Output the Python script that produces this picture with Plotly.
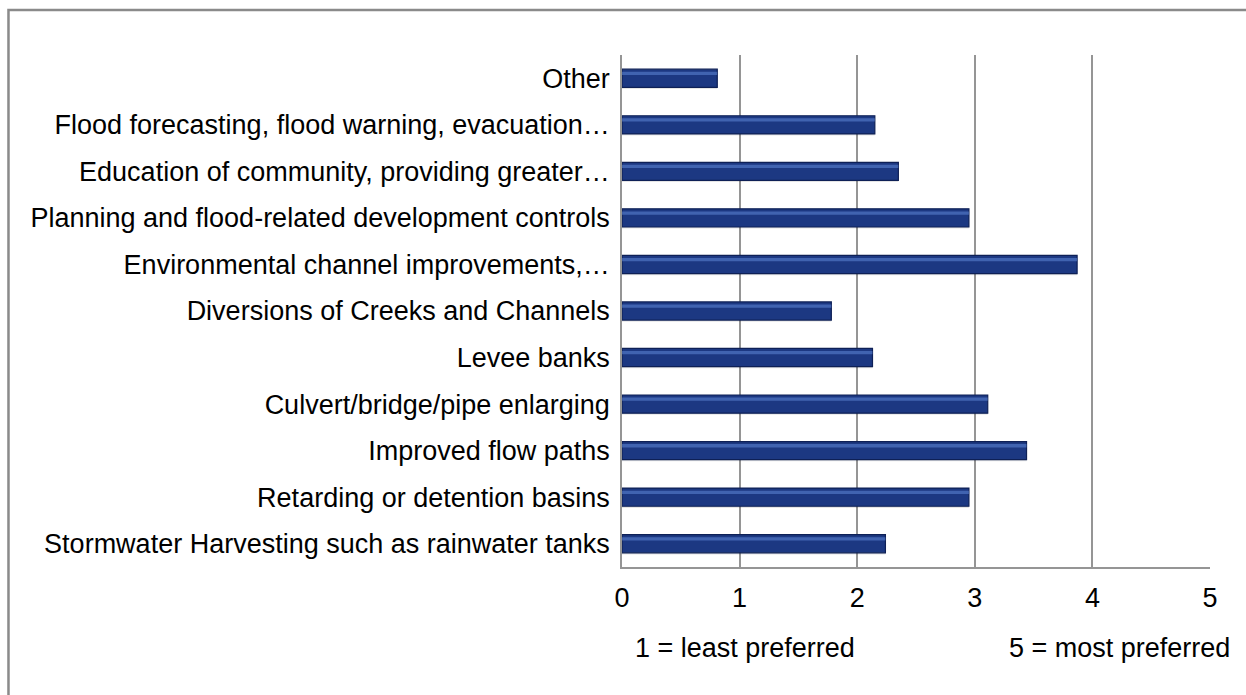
import plotly.graph_objects as go

# Flood-mitigation options, listed top to bottom
options = [
    "Other",
    "Flood forecasting, flood warning, evacuation…",
    "Education of community, providing greater…",
    "Planning and flood-related development controls",
    "Environmental channel improvements,…",
    "Diversions of Creeks and Channels",
    "Levee banks",
    "Culvert/bridge/pipe enlarging",
    "Improved flow paths",
    "Retarding or detention basins",
    "Stormwater Harvesting such as rainwater tanks",
]
mean_rating = [0.81, 2.15, 2.35, 2.95, 3.87, 1.78, 2.13, 3.11, 3.44, 2.95, 2.24]
x_ticks = [0, 1, 2, 3, 4, 5]

FONT = "Liberation Sans, Arial, sans-serif"
FSIZE = 27

fig = go.Figure()

# soft drop shadow under each bar
fig.add_trace(go.Bar(
    y=options, x=mean_rating, orientation="h",
    width=0.40, offset=-0.17,
    marker=dict(color="rgba(0,0,0,0.10)", line=dict(width=0)),
    hoverinfo="skip", showlegend=False,
))
# main navy bar
fig.add_trace(go.Bar(
    y=options, x=mean_rating, orientation="h",
    width=0.39, offset=-0.195,
    marker=dict(color="#1c3882", line=dict(color="#0e2056", width=1.2)),
    showlegend=False,
))
# glossy highlight stripe near the top of each bar
fig.add_trace(go.Bar(
    y=options, x=mean_rating, orientation="h",
    width=0.07, offset=-0.14,
    marker=dict(color="rgba(95,135,215,0.55)", line=dict(width=0)),
    hoverinfo="skip", showlegend=False,
))

fig.update_layout(
    width=1246, height=695,
    margin=dict(l=622, r=36, t=55, b=128),
    paper_bgcolor="white", plot_bgcolor="white",
    barmode="overlay",
    font=dict(family=FONT, size=FSIZE, color="#000000"),
    xaxis=dict(
        range=[0, 5], tickvals=x_ticks, ticktext=[str(v) for v in x_ticks],
        showgrid=True, gridcolor="#959595", gridwidth=1.5,
        showline=True, linecolor="#959595", linewidth=1.5,
        zeroline=False, ticks="", ticklabelstandoff=6,
        tickfont=dict(family=FONT, size=FSIZE, color="#000000"),
        fixedrange=True,
    ),
    yaxis=dict(
        type="category", autorange="reversed",
        showgrid=False, showline=True, linecolor="#959595", linewidth=1.5,
        zeroline=False, ticks="", ticklabelstandoff=5,
        tickfont=dict(family=FONT, size=FSIZE, color="#000000"),
        fixedrange=True,
    ),
    shapes=[
        # chart-area frame
        dict(type="rect", xref="paper", yref="paper",
             x0=-1.0434, x1=1.08, y0=-0.28, y1=1.0879,
             line=dict(color="#8a8a8a", width=2.5), fillcolor="rgba(0,0,0,0)",
             layer="below"),
    ],
    annotations=[
        dict(text="1 = least preferred", xref="paper", yref="paper",
             x=0.0187, y=-0.158, xanchor="left", yanchor="middle",
             showarrow=False, font=dict(family=FONT, size=FSIZE, color="#000000")),
        dict(text="5 = most preferred", xref="paper", yref="paper",
             x=1.037, y=-0.158, xanchor="right", yanchor="middle",
             showarrow=False, font=dict(family=FONT, size=FSIZE, color="#000000")),
    ],
)

fig.write_html("out.html")
